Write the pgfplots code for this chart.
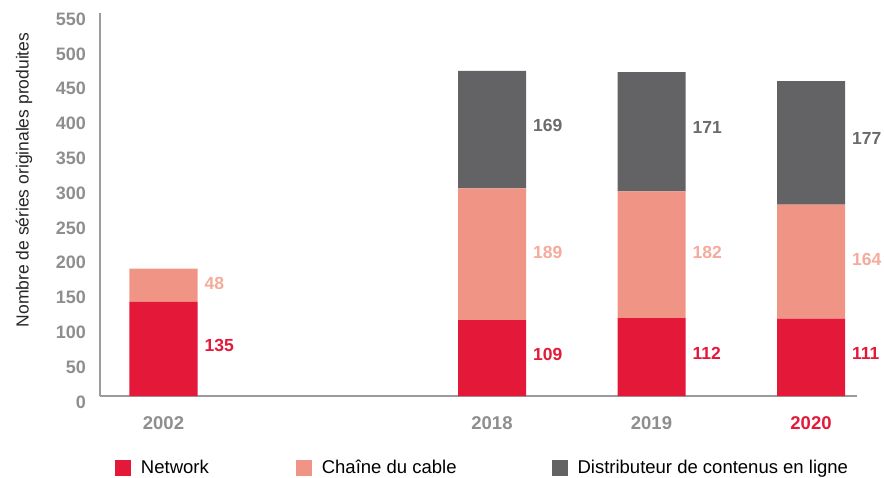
\documentclass[border=0pt]{standalone}
\usepackage{pgfplots}
\pgfplotsset{compat=1.18}
\usepackage{fontspec}
\setmainfont{Liberation Sans}
\definecolor{cred}{HTML}{E4193A}
\definecolor{csal}{HTML}{F09585}
\definecolor{cgray}{HTML}{636365}
\definecolor{lsal}{HTML}{F5AA9C}
\definecolor{lgray}{HTML}{6B6B6D}
\definecolor{tgray}{HTML}{8E8E90}
\definecolor{agray}{HTML}{9B9B9D}
\begin{document}
\begin{tikzpicture}
\useasboundingbox (0,0) rectangle (884pt,477pt);
\begin{axis}[
  at={(100pt,81pt)}, anchor=south west,
  scale only axis, width=757pt, height=383pt,
  xmin=100, xmax=857, ymin=0, ymax=550,
  ybar stacked, bar width=68,
  axis lines*=left,
  axis line style={-, agray, line width=2.2pt},
  ytick={0,50,...,550},
  xtick={163.5,492,651.5,811},
  xticklabels={2002,2018,2019,\textcolor{cred}{2020}},
  major tick length=0pt,
  /pgf/number format/assume math mode=true,
  yticklabel style={anchor=east, inner sep=0pt, xshift=-14pt, yshift=-6pt, text=tgray, font=\fontsize{18}{20}\selectfont\bfseries},
  xticklabel style={anchor=base, inner sep=0pt, yshift=-33pt, text=tgray, font=\fontsize{18.5}{20}\selectfont\bfseries},
  ylabel={Nombre de séries originales produites},
  ylabel style={at={(axis description cs:-0.1004,0.564)}, anchor=center, font=\fontsize{17.5}{19}\selectfont, text=black!85},
  clip=false,
  point meta=rawy,
  nodes near coords={\pgfmathfloatifflags{\pgfplotspointmeta}{0}{}{\pgfmathprintnumber{\pgfplotspointmeta}}},
  legend columns=-1,
  legend style={at={(axis cs:115,-103)}, anchor=west, draw=none, fill=none,
    inner sep=0pt, outer sep=0pt, font=\fontsize{18.5}{20}\selectfont,
    nodes={inner sep=0pt},
    /tikz/every odd column/.style={column sep=10pt},
    /tikz/column 2/.style={column sep=87pt},
    /tikz/column 4/.style={column sep=95pt}},
]
\addplot[fill=cred, draw=none,
  every node near coord/.append style={anchor=west, inner sep=0pt, xshift=41pt, yshift=4pt, text=cred, font=\fontsize{17.5}{19}\selectfont\bfseries},
  legend image code/.code={\fill[cred] (0pt,-8pt) rectangle (16pt,8pt);}]
  coordinates {(163.5,135) (492,109) (651.5,112) (811,111)};
\addlegendentry{Network}
\addplot[fill=csal, draw=none,
  every node near coord/.append style={anchor=west, inner sep=0pt, xshift=41pt, yshift=2pt, text=lsal, font=\fontsize{17.5}{19}\selectfont\bfseries},
  legend image code/.code={\fill[csal] (0pt,-8pt) rectangle (16pt,8pt);}]
  coordinates {(163.5,48) (492,189) (651.5,182) (811,164)};
\addlegendentry{Chaîne du cable}
\addplot[fill=cgray, draw=none,
  every node near coord/.append style={anchor=west, inner sep=0pt, xshift=41pt, yshift=4pt, text=lgray, font=\fontsize{17.5}{19}\selectfont\bfseries},
  legend image code/.code={\fill[cgray] (0pt,-8pt) rectangle (16pt,8pt);}]
  coordinates {(163.5,0) (492,169) (651.5,171) (811,177)};
\addlegendentry{Distributeur de contenus en ligne}
\end{axis}
\end{tikzpicture}
\end{document}
